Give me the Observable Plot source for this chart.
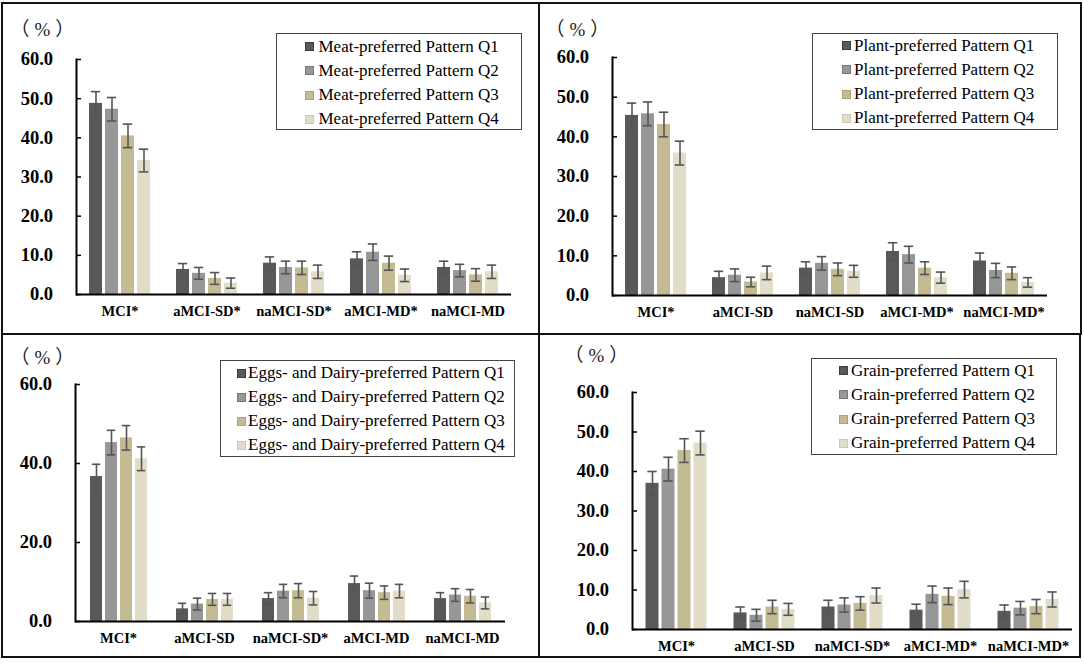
<!DOCTYPE html>
<html><head><meta charset="utf-8">
<script src="https://cdn.jsdelivr.net/npm/d3@7"></script>
<script src="https://cdn.jsdelivr.net/npm/@observablehq/plot@0.6"></script>
<style>
body{margin:0;background:#fff;}
#root{position:relative;width:1084px;height:663px;overflow:hidden;background:#fff;font-family:"Liberation Serif","Times New Roman",serif;color:#000;}
.panel{position:absolute;}
.panel svg{position:absolute;left:0;top:0;}
.border{position:absolute;border:2px solid #111;box-sizing:border-box;pointer-events:none;}
.pct{position:absolute;font-size:19px;line-height:19px;letter-spacing:5px;white-space:nowrap;font-family:"Liberation Serif","Noto Sans CJK SC",serif;color:#222;}
.legend{position:absolute;border:1.5px solid #444;box-sizing:border-box;background:#fff;}
.row{position:absolute;font-size:17px;line-height:17px;white-space:nowrap;}
.sw{position:absolute;width:9px;height:9px;box-sizing:border-box;border:1px solid;}
</style></head><body><div id="root"></div>
<script>
const quartiles = ["Q1", "Q2", "Q3", "Q4"];
const colors = ["#595959", "#979797", "#c5bb92", "#e2ddc8"];
const swatchEdges = ["#3e3e3e", "#777777", "#aba276", "#cfc9b0"];
const yTicksTen = [0, 10, 20, 30, 40, 50, 60];
const yTicksTwenty = [0, 20, 40, 60];

// Meat-preferred pattern
const meatCats = ["MCI*", "aMCI-SD*", "naMCI-SD*", "aMCI-MD*", "naMCI-MD"];
const meatQ1 = [48.8, 6.4, 8.0, 9.1, 6.9];
const meatQ2 = [47.3, 5.4, 6.9, 10.8, 6.1];
const meatQ3 = [40.5, 4.1, 6.8, 8.0, 5.0];
const meatQ4 = [34.2, 2.9, 5.8, 4.9, 5.8];
const meatErrQ1 = [3.0, 1.5, 1.6, 1.8, 1.6];
const meatErrQ2 = [3.0, 1.5, 1.6, 2.1, 1.6];
const meatErrQ3 = [3.0, 1.5, 1.7, 1.8, 1.6];
const meatErrQ4 = [2.9, 1.3, 1.7, 1.6, 1.7];

// Plant-preferred pattern
const plantCats = ["MCI*", "aMCI-SD", "naMCI-SD", "aMCI-MD*", "naMCI-MD*"];
const plantQ1 = [45.4, 4.5, 6.9, 11.1, 8.7];
const plantQ2 = [45.8, 5.1, 8.1, 10.3, 6.3];
const plantQ3 = [43.1, 3.4, 6.6, 6.9, 5.6];
const plantQ4 = [35.9, 5.7, 6.1, 4.5, 3.3];
const plantErrQ1 = [3.1, 1.6, 1.6, 2.2, 2.0];
const plantErrQ2 = [3.0, 1.6, 1.7, 2.1, 1.8];
const plantErrQ3 = [3.1, 1.2, 1.6, 1.6, 1.6];
const plantErrQ4 = [3.0, 1.7, 1.5, 1.4, 1.2];

// Eggs- and Dairy-preferred pattern
const eggsCats = ["MCI*", "aMCI-SD", "naMCI-SD*", "aMCI-MD", "naMCI-MD"];
const eggsQ1 = [36.7, 3.2, 5.8, 9.6, 5.8];
const eggsQ2 = [45.3, 4.4, 7.7, 7.8, 6.7];
const eggsQ3 = [46.5, 5.6, 7.8, 7.3, 6.4];
const eggsQ4 = [41.2, 5.6, 5.9, 7.7, 4.7];
const eggsErrQ1 = [3.1, 1.4, 1.5, 1.9, 1.5];
const eggsErrQ2 = [3.1, 1.5, 1.7, 1.9, 1.6];
const eggsErrQ3 = [3.1, 1.5, 1.8, 1.7, 1.7];
const eggsErrQ4 = [3.0, 1.5, 1.7, 1.7, 1.5];

// Grain-preferred pattern
const grainCats = ["MCI*", "aMCI-SD", "naMCI-SD*", "aMCI-MD*", "naMCI-MD*"];
const grainQ1 = [37.0, 4.2, 5.7, 4.9, 4.6];
const grainQ2 = [40.6, 3.6, 6.2, 8.9, 5.4];
const grainQ3 = [45.3, 5.7, 6.6, 8.4, 5.8];
const grainQ4 = [47.2, 5.1, 8.6, 10.1, 7.6];
const grainErrQ1 = [3.0, 1.5, 1.7, 1.5, 1.6];
const grainErrQ2 = [3.0, 1.5, 1.8, 2.1, 1.7];
const grainErrQ3 = [3.0, 1.7, 1.7, 2.1, 1.8];
const grainErrQ4 = [3.0, 1.5, 1.9, 2.1, 1.9];

const panels = [
  {name: "Meat-preferred Pattern", cats: meatCats, values: [meatQ1, meatQ2, meatQ3, meatQ4], errs: [meatErrQ1, meatErrQ2, meatErrQ3, meatErrQ4], yTicks: yTicksTen,
   box: {x: 1, y: 2, w: 539, h: 333}, m: [73, 27, 57, 41],
   legend: {x: 276, y: 33, w: 246, h: 97, sw: 305, tx: 318.5, rows: [46.7, 70.9, 95.1, 119]},
   pct: {x: 20.5, y: 30}},
  {name: "Plant-preferred Pattern", cats: plantCats, values: [plantQ1, plantQ2, plantQ3, plantQ4], errs: [plantErrQ1, plantErrQ2, plantErrQ3, plantErrQ4], yTicks: yTicksTen,
   box: {x: 538, y: 2, w: 544, h: 333}, m: [72, 34, 55, 40],
   legend: {x: 811.7, y: 33, w: 246, h: 97, sw: 842, tx: 854, rows: [45.7, 69.9, 94.1, 118.2]},
   pct: {x: 555.5, y: 29.5}},
  {name: "Eggs- and Dairy-preferred Pattern", cats: eggsCats, values: [eggsQ1, eggsQ2, eggsQ3, eggsQ4], errs: [eggsErrQ1, eggsErrQ2, eggsErrQ3, eggsErrQ4], yTicks: yTicksTwenty,
   box: {x: 1, y: 333, w: 539, h: 325}, m: [72, 34, 51, 37],
   legend: {x: 220.4, y: 360, w: 295, h: 97, sw: 237, tx: 248, rows: [373.3, 397.3, 421.3, 445.3]},
   pct: {x: 20.5, y: 357.5}},
  {name: "Grain-preferred Pattern", cats: grainCats, values: [grainQ1, grainQ2, grainQ3, grainQ4], errs: [grainErrQ1, grainErrQ2, grainErrQ3, grainErrQ4], yTicks: yTicksTen,
   box: {x: 538, y: 333, w: 543, h: 325}, m: [91.5, 7, 59, 29],
   legend: {x: 810.6, y: 358, w: 246.4, h: 97, sw: 839, tx: 851, rows: [370.7, 394.9, 419.1, 443.3]},
   pct: {x: 574.5, y: 355.5}}
];

const root = document.getElementById("root");
const fmt = d3.format(".1f");

function el(cls, css, text) {
  const d = document.createElement("div");
  d.className = cls;
  Object.assign(d.style, css);
  if (text != null) d.textContent = text;
  root.appendChild(d);
  return d;
}

for (const p of panels) {
  const data = [];
  p.values.forEach((vals, qi) => vals.forEach((v, ci) => data.push({cat: p.cats[ci], q: quartiles[qi], v, e: p.errs[qi][ci]})));
  const svg = Plot.plot({
    width: p.box.w, height: p.box.h,
    marginLeft: p.m[0], marginRight: p.m[1], marginTop: p.m[2], marginBottom: p.m[3],
    style: {fontFamily: "'Liberation Serif', 'Times New Roman', serif", background: "transparent", color: "#000", overflow: "visible"},
    fx: {domain: p.cats, padding: 0, label: null},
    x: {domain: quartiles, paddingInner: 0.2, paddingOuter: 0.8, axis: null},
    y: {domain: [0, 60], label: null},
    color: {domain: quartiles, range: colors},
    marks: [
      Plot.barY(data, {fx: "cat", x: "q", y: "v", fill: "q"}),
      Plot.ruleX(data, {fx: "cat", x: "q", y1: d => d.v - d.e, y2: d => d.v + d.e, stroke: "#555", strokeWidth: 1.6}),
      Plot.tickY(data, {fx: "cat", x: "q", y: d => d.v + d.e, stroke: "#555", strokeWidth: 1.6, insetLeft: 1.8, insetRight: 1.8}),
      Plot.tickY(data, {fx: "cat", x: "q", y: d => d.v - d.e, stroke: "#555", strokeWidth: 1.6, insetLeft: 1.8, insetRight: 1.8}),
      Plot.ruleY([0], {stroke: "#000", strokeWidth: 2}),
      Plot.frame({anchor: "left", facetAnchor: "left", stroke: "#000", strokeWidth: 2}),
      Plot.axisY({ticks: p.yTicks, tickFormat: fmt, tickSize: 5, dx: 5, tickPadding: 23.5, fontSize: 18.5, fontWeight: "bold", stroke: "#000", strokeWidth: 1.5, fill: "#000"}),
      Plot.axisFx({anchor: "bottom", tickSize: 0, tickPadding: 11.5, fontSize: 14.5, fontWeight: "bold", label: null, fill: "#000"})
    ]
  });
  const wrap = el("panel", {left: p.box.x + "px", top: p.box.y + "px", width: p.box.w + "px", height: p.box.h + "px"});
  wrap.appendChild(svg);
  el("border", {left: p.box.x + "px", top: p.box.y + "px", width: p.box.w + "px", height: p.box.h + "px"});
  el("pct", {left: (p.pct.x - 10) + "px", top: (p.pct.y - 10) + "px"}, "（%）");
  const L = p.legend;
  el("legend", {left: L.x + "px", top: L.y + "px", width: L.w + "px", height: L.h + "px"});
  quartiles.forEach((q, i) => {
    el("sw", {left: L.sw + "px", top: (L.rows[i] - 4.5) + "px", background: colors[i], borderColor: swatchEdges[i]});
    el("row", {left: L.tx + "px", top: (L.rows[i] - 9) + "px"}, `${p.name} ${q}`);
  });
}
</script></body></html>
